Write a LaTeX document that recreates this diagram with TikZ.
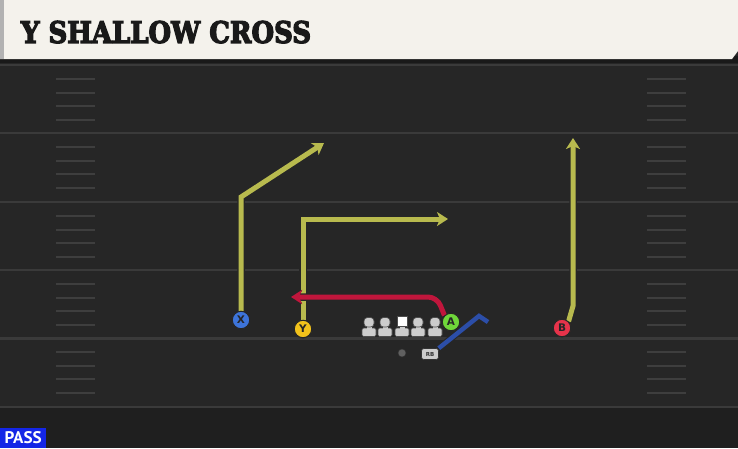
\documentclass[tikz,border=0pt]{standalone}
\usepackage{fontspec}
\usetikzlibrary{arrows.meta}
\newfontfamily\titlefont{DejaVu Serif}
\newfontfamily\labfont{DejaVu Sans}
\newfontfamily\passfont{PT Sans}
\definecolor{fieldbg}{HTML}{262626}
\definecolor{bottombg}{HTML}{1F1F1F}
\definecolor{yardc}{HTML}{3A3A3A}
\definecolor{hashc}{HTML}{3E3E3E}
\definecolor{cream}{HTML}{F4F2EC}
\definecolor{routey}{HTML}{B8BA4E}
\definecolor{router}{HTML}{C0163C}
\definecolor{routeb}{HTML}{2C4EA8}
\definecolor{pX}{HTML}{3D74D9}
\definecolor{pY}{HTML}{F2C21B}
\definecolor{pA}{HTML}{6FD63A}
\definecolor{pB}{HTML}{E6334A}
\definecolor{passblue}{HTML}{1426E6}
\definecolor{linec}{HTML}{CDCDCD}
\newcommand\titletext{\resizebox{290pt}{22pt}{\special{pdf:literal direct 2 Tr 0.45 w}\titlefont\bfseries Y SHALLOW CROSS\special{pdf:literal direct 0 Tr}}}
\begin{document}
\begin{tikzpicture}[x=1pt,y=-1pt,
  yard/.style={draw=yardc, line width=2.2pt},
  hashm/.style={draw=hashc, line width=2pt},
  player/.style={circle, draw=black!85, line width=1pt, minimum size=17.5pt, inner sep=0pt,
    font=\labfont\bfseries\fontsize{10.5}{10.5}\selectfont, text=black!85},
  route/.style={line width=5pt, line join=miter,
    -{Stealth[length=11pt,width=14pt,inset=3pt]},
    preaction={draw=black!85, line width=7.5pt, -{Stealth[length=11pt,width=14pt,inset=3pt]}}},
  block/.style={line width=4.5pt, line join=miter,
    preaction={draw=black!85, line width=6.5pt}},
  lman/.style={fill=linec, draw=black!70, line width=0.6pt},
  ttl/.style={anchor=south west, inner sep=0pt}
]
\useasboundingbox (0,0) rectangle (738,448);
\fill[fieldbg] (0,0) rectangle (738,448);
\fill[bottombg] (0,407) rectangle (738,448);
% yard lines
\foreach \y in {64.8,133.2,201.6,270,338.4,406.8}
  \draw[yard] (0,\y) -- (738,\y);
% hash marks
\foreach \y in {64.8,133.2,201.6,270,338.4}
  \foreach \o in {14,28,41,55} {
    \draw[hashm] (56,\y+\o) -- (95,\y+\o);
    \draw[hashm] (647,\y+\o) -- (686,\y+\o);
  }
% title bar
\fill[black!90] (0,56) rectangle (738,63);
\fill[cream] (0,0) -- (738,0) -- (738,51) -- (732,59) -- (0,59) -- cycle;
\fill[gray!60] (0,0) rectangle (3.5,59);
\node[ttl, text=black!90] (title) at (20.8,43.5) {\titletext};
% players
\node[player, fill=pX] (X) at (241,320) {X};
\node[player, fill=pY] (Y) at (303,329) {Y};
\node[player, fill=pA] (A) at (451,322) {A};
\node[player, fill=pB] (B) at (562,328) {B};
\node[circle, fill=gray!75!black, draw=black!80, line width=0.5pt, minimum size=8pt, inner sep=0pt] (QB) at (402,353) {};
\node[rounded corners=2.5pt, fill=linec, draw=black!80, line width=0.6pt, minimum width=17pt, minimum height=11pt, inner sep=0pt,
  font=\labfont\bfseries\fontsize{5.5}{5.5}\selectfont, text=black!80] (RB) at (430,354) {RB};
% linemen
\foreach \x in {369,385,418,435} {
  \draw[lman, rounded corners=1.5pt] (\x-7,336.5) rectangle (\x+7,328);
  \fill[linec] (\x-2.5,325) rectangle (\x+2.5,329);
  \draw[lman, rounded corners=3.5pt] (\x-5,327) rectangle (\x+5,317.5);
}
\draw[lman, rounded corners=1.5pt] (402-7,336.5) rectangle (402+7,328);
\fill[linec] (399.5,325) rectangle (404.5,329);
\draw[fill=white, draw=black!70, line width=0.6pt] (397,316.5) rectangle (407,326.5);
% route coordinates
\coordinate (x1) at (241,197);
\coordinate (x2) at (324,143);
\coordinate (y1) at (303,219);
\coordinate (y2) at (448,219);
\coordinate (b1) at (573,306);
\coordinate (b2) at (573,138);
\coordinate (a1) at (437,297);
\coordinate (a2) at (291,297);
\coordinate (r1) at (479,316);
\coordinate (r2) at (488,322);
% routes
\draw[route, draw=routey] (X.north) -- (x1) -- (x2);
\draw[route, draw=routey] (Y.north) -- (y1) -- (y2);
\draw[route, draw=routey] (B.north east) -- (b1) -- (b2);
\draw[route, draw=router, rounded corners=9pt] (A.north west) -- (a1) -- (a2);
\draw[block, draw=routeb] (RB.north east) -- (r1) -- (r2);
% redraw players above routes
\node[player, fill=pX] at (X) {X};
\node[player, fill=pY] at (Y) {Y};
\node[player, fill=pA] at (A) {A};
\node[player, fill=pB] at (B) {B};
\node[rounded corners=2.5pt, fill=linec, draw=black!80, line width=0.6pt, minimum width=17pt, minimum height=11pt, inner sep=0pt,
  font=\labfont\bfseries\fontsize{5.5}{5.5}\selectfont, text=black!80] at (RB) {RB};
% pass tag
\node[anchor=south west, fill=passblue, minimum width=46pt, minimum height=20pt, inner sep=0pt,
  text=white] (pass) at (0,448) {\resizebox{37pt}{12pt}{\passfont\bfseries PASS}};
\end{tikzpicture}
\end{document}
